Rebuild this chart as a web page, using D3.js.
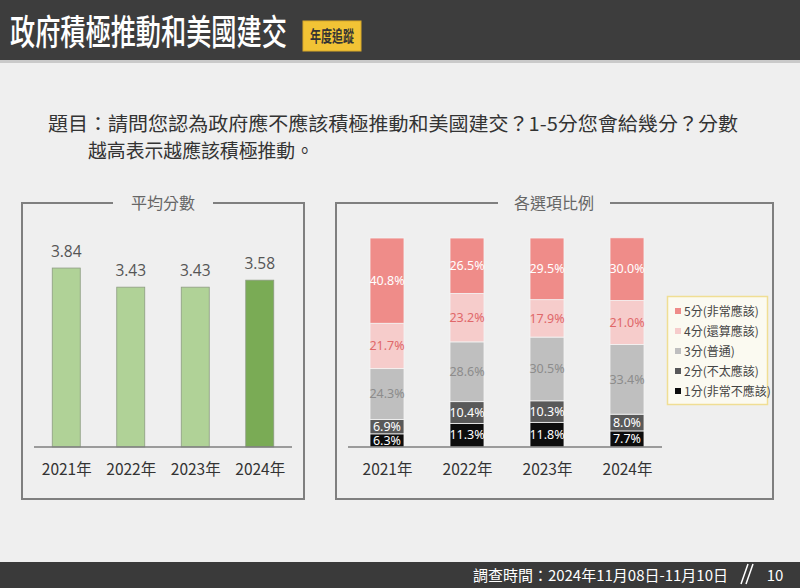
<!DOCTYPE html>
<html><head><meta charset="utf-8">
<script src="https://cdn.jsdelivr.net/npm/d3@7"></script>
<style>html,body{margin:0;padding:0;background:#efefef;}svg{display:block;}</style>
</head><body>
<svg id="c" width="800" height="588"></svg>
<script>
const years = ['2021年','2022年','2023年','2024年'];
const avgScores = [3.84, 3.43, 3.43, 3.58];
const levelLabels = ['1分(非常不應該)','2分(不太應該)','3分(普通)','4分(還算應該)','5分(非常應該)'];
const share1 = [6.3, 11.3, 11.8, 7.7];
const share2 = [6.9, 10.4, 10.3, 8.0];
const share3 = [24.3, 28.6, 30.5, 33.4];
const share4 = [21.7, 23.2, 17.9, 21.0];
const share5 = [40.8, 26.5, 29.5, 30.0];
const titleText = '政府積極推動和美國建交';
const badgeText = '年度追蹤';
const questionLine1 = '題目：請問您認為政府應不應該積極推動和美國建交？1-5分您會給幾分？分數';
const questionLine2 = '越高表示越應該積極推動。';
const leftTitle = '平均分數';
const rightTitle = '各選項比例';
const footerText = '調查時間：2024年11月08日-11月10日';
const pageNum = '10';

const FONT = '"Noto Sans CJK TC","Noto Sans",sans-serif';
const svg = d3.select('#c').style('font-family', FONT);

// background
svg.append('rect').attr('width',800).attr('height',588).attr('fill','#efefef');
// header
svg.append('rect').attr('x',0).attr('y',0).attr('width',800).attr('height',60).attr('fill','#3d3d3d');
svg.append('rect').attr('x',0).attr('y',60).attr('width',800).attr('height',3).attr('fill','#c9c9c9');
// condensed title via horizontal scale
const tTitle = svg.append('text').attr('x',0).attr('y',0).attr('fill','#ffffff').attr('font-size',35).attr('font-weight',500)
  .text(titleText);
const tw = tTitle.node().getComputedTextLength();
tTitle.attr('transform',`translate(10,45) scale(${277/tw},1)`);
svg.append('rect').attr('x',303).attr('y',21).attr('width',58).attr('height',30).attr('fill','#f2c335').attr('stroke','#d9a92a').attr('stroke-width',1);
const tBadge = svg.append('text').attr('x',0).attr('y',0).attr('text-anchor','middle').attr('fill','#333').attr('font-size',16).attr('font-weight',700)
  .text(badgeText);
const bw = tBadge.node().getComputedTextLength();
tBadge.attr('transform',`translate(332,42) scale(${44/bw},1)`);

// question
svg.append('text').attr('x',48).attr('y',131).attr('fill','#333').attr('font-size',19).attr('font-weight',400)
  .attr('textLength',690).attr('lengthAdjust','spacingAndGlyphs').text(questionLine1);
svg.append('text').attr('x',88).attr('y',158).attr('fill','#333').attr('font-size',19).attr('font-weight',400)
  .attr('textLength',226).attr('lengthAdjust','spacingAndGlyphs').text(questionLine2);

// panel boxes with title gaps
function panel(x0, x1, y0, y1, title, cx, gapHalf) {
  const g = svg.append('g').attr('fill','none').attr('stroke','#7f7f7f').attr('stroke-width',2);
  g.append('path').attr('d', `M${cx-gapHalf},${y0} H${x0} V${y1} H${x1} V${y0} H${cx+gapHalf}`);
  svg.append('text').attr('x',cx).attr('y',y0+6).attr('text-anchor','middle').attr('fill','#666')
    .attr('font-size',16).text(title);
}
panel(22, 304, 203, 499, leftTitle, 163, 50);
panel(336, 773, 203, 499, rightTitle, 554, 56);

// ---- left chart: average scores
const xL = d3.scalePoint().domain(years).range([34, 292]).padding(0.5);
const yL = d3.scaleLinear().domain([0, 4]).range([447, 260.6]);
const bwL = 28;
const colorsL = ['#b0d297','#b0d297','#b0d297','#7aab55'];
const gL = svg.append('g');
gL.selectAll('rect').data(avgScores).join('rect')
  .attr('x',(d,i)=>xL(years[i])-bwL/2).attr('width',bwL)
  .attr('y',d=>yL(d)).attr('height',d=>yL(0)-yL(d))
  .attr('fill',(d,i)=>colorsL[i]).attr('stroke','#8d9c82').attr('stroke-width',0.8);
gL.selectAll('text.v').data(avgScores).join('text').attr('class','v')
  .attr('x',(d,i)=>xL(years[i])).attr('y',d=>yL(d)-11).attr('text-anchor','middle')
  .attr('fill','#555').attr('font-size',15.5).attr('font-family','"Open Sans",sans-serif').text(d=>d.toFixed(2));
const axL = svg.append('g').attr('transform','translate(0,447)')
  .call(d3.axisBottom(xL).tickSize(0).tickPadding(17));
axL.select('.domain').attr('stroke','#7f7f7f').attr('stroke-width',1.5).attr('d','M34,0H292');
axL.selectAll('text').attr('font-size',15.5).attr('fill','#333').attr('font-family',FONT);

// ---- right chart: stacked shares
const shares = [share1, share2, share3, share4, share5];
const rows = years.map((y,i)=>{ const o={year:y}; shares.forEach((s,k)=>o['k'+k]=s[i]); return o; });
const keys = ['k0','k1','k2','k3','k4'];
const stack = d3.stack().keys(keys)(rows);
const xR = d3.scalePoint().domain(years).range([347, 667]).padding(0.5);
const yR = d3.scaleLinear().domain([0, 100]).range([447, 238]);
const bwR = 34;
const fillR = ['#0d0d0d','#595959','#bfbfbf','#f6cccb','#ef8c89'];
const textR = ['#ffffff','#ffffff','#8c8c8c','#e0686a','#ffffff'];
const gR = svg.append('g');
stack.forEach((layer,k)=>{
  const g = gR.append('g');
  g.selectAll('rect').data(layer).join('rect')
    .attr('x',d=>xR(d.data.year)-bwR/2).attr('width',bwR)
    .attr('y',d=>yR(d[1])).attr('height',d=>yR(d[0])-yR(d[1]))
    .attr('fill',fillR[k]).attr('stroke','#f4f4f4').attr('stroke-width',0.8);
  g.selectAll('text').data(layer).join('text')
    .attr('x',d=>xR(d.data.year)).attr('y',d=>(yR(d[0])+yR(d[1]))/2+4.3)
    .attr('text-anchor','middle').attr('fill',textR[k]).attr('font-size',12.5)
    .attr('font-family','"Noto Sans",sans-serif')
    .text(d=>d.data[keys[k]].toFixed(1)+'%');
});
const axR = svg.append('g').attr('transform','translate(0,447)')
  .call(d3.axisBottom(xR).tickSize(0).tickPadding(17));
axR.select('.domain').attr('stroke','#7f7f7f').attr('stroke-width',1.5).attr('d','M348,0H662');
axR.selectAll('text').attr('font-size',15.5).attr('fill','#333').attr('font-family',FONT);

// legend
const lg = svg.append('g');
lg.append('rect').attr('x',667.5).attr('y',296.5).attr('width',100).attr('height',108)
  .attr('fill','#fbfaf1').attr('stroke','#f0de94').attr('stroke-width',1.5);
const legendOrder = [4,3,2,1,0];
legendOrder.forEach((k,i)=>{
  const cy = 311 + i*20;
  lg.append('rect').attr('x',675).attr('y',cy-3).attr('width',6).attr('height',6).attr('fill',fillR[k]);
  lg.append('text').attr('x',684).attr('y',cy+4.5).attr('fill','#444').attr('font-size',12).text(levelLabels[k]);
});

// footer
svg.append('rect').attr('x',0).attr('y',562).attr('width',800).attr('height',26).attr('fill','#3a3a3a');
svg.append('text').attr('x',728).attr('y',581).attr('text-anchor','end').attr('fill','#ffffff').attr('font-size',15)
  .text(footerText);
svg.append('path').attr('d','M741,584 L748,564 M746,584 L753,564').attr('stroke','#ffffff').attr('stroke-width',1.5).attr('fill','none');
svg.append('text').attr('x',775).attr('y',581).attr('text-anchor','middle').attr('fill','#ffffff').attr('font-size',15).text(pageNum);
</script>
</body></html>
